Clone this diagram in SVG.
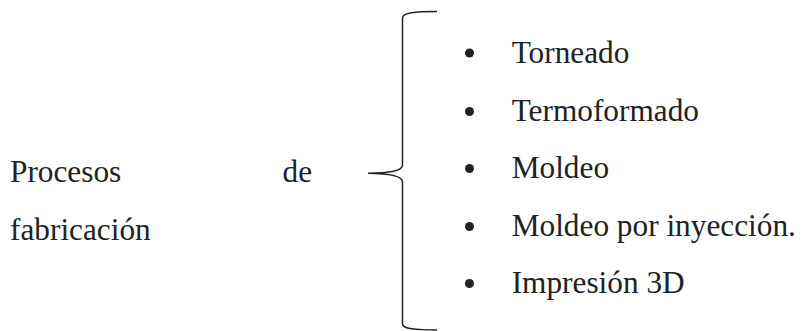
<svg xmlns="http://www.w3.org/2000/svg" width="801" height="331" viewBox="0 0 801 331">
<style>
text{font-family:"Liberation Serif","Times New Roman",serif;font-size:31.3px;fill:#222}
.b{fill:#222}
.brace{fill:none;stroke:#222;stroke-width:1.5}
</style>
<rect width="801" height="331" fill="#fff"/>
<g id="title">
<text x="10" y="181.7">Procesos</text>
<text x="282.5" y="181.7">de</text>
<text x="10" y="240">fabricación</text>
</g>
<g id="connectors">
<path class="brace" d="M437,11.5 C415,11.5 402.5,12.5 402.5,18 L402.5,165 C402.5,171 390,173 368,173.3 C390,173.6 402.5,176 402.5,182 L402.5,324 C402.5,329 415,330 437,330"/>
</g>
<g id="item1"><circle class="b" cx="469.5" cy="53" r="4.5"/><text x="511.7" y="63.3">Torneado</text></g>
<g id="item2"><circle class="b" cx="469.5" cy="111.5" r="4.5"/><text x="511.7" y="120.8">Termoformado</text></g>
<g id="item3"><circle class="b" cx="469.5" cy="168.5" r="4.5"/><text x="511.7" y="178.3">Moldeo</text></g>
<g id="item4"><circle class="b" cx="469.5" cy="226.5" r="4.5"/><text x="511.7" y="235.8">Moldeo por inyección.</text></g>
<g id="item5"><circle class="b" cx="469.5" cy="283.5" r="4.5"/><text x="511.7" y="293.3">Impresión 3D</text></g>
</svg>
